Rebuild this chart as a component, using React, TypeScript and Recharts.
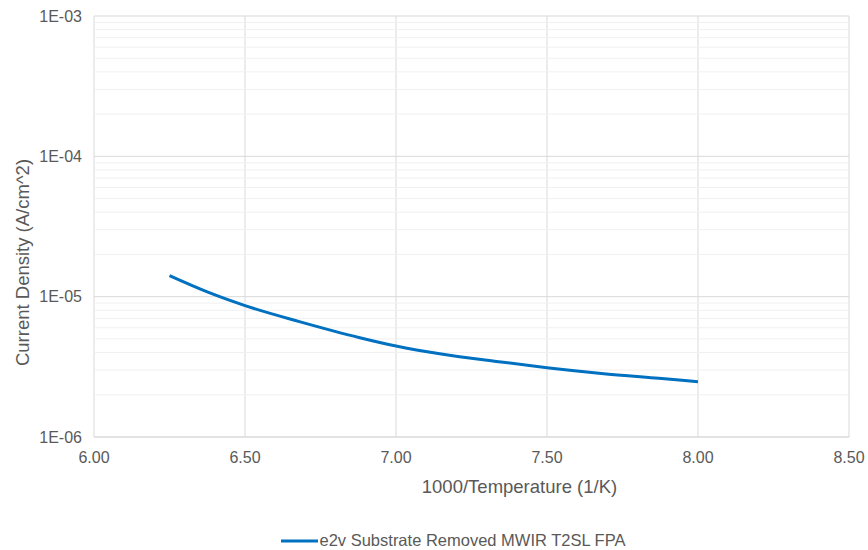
import React from "react";
import {
  LineChart,
  Line,
  XAxis,
  YAxis,
  CartesianGrid,
  Legend,
  ReferenceLine,
} from "recharts";

const inverseTemp = [6.25, 6.375, 6.5, 6.68, 6.88, 7.0, 7.15, 7.34, 7.5, 7.68, 7.87, 8.0];
const currentDensity = [
  1.41e-5, 1.08e-5, 8.63e-6, 6.64e-6, 5.1e-6, 4.45e-6, 3.9e-6, 3.44e-6, 3.12e-6, 2.84e-6, 2.62e-6, 2.48e-6,
];
const xTicks = [6.0, 6.5, 7.0, 7.5, 8.0, 8.5];
const yTicks = [1e-6, 1e-5, 1e-4, 1e-3];
const minorMultipliers = [2, 3, 4, 5, 6, 7, 8, 9];
const seriesName = "e2v Substrate Removed MWIR T2SL FPA";
const xTitle = "1000/Temperature (1/K)";
const yTitle = "Current Density (A/cm^2)";

const data = inverseTemp.map((x, i) => ({ x, y: currentDensity[i] }));
const minorLines: number[] = [];
[1e-6, 1e-5, 1e-4].forEach((d) =>
  minorMultipliers.forEach((m) => minorLines.push(m * d))
);

const FONT = "'Liberation Sans', Arial, sans-serif";
const TXT = "#595959";

const fmtY = (v: number) => {
  const e = Math.round(Math.log10(v));
  const s = Math.abs(e).toString().padStart(2, "0");
  return `1E${e < 0 ? "-" : "+"}${s}`;
};

const LegendContent = () => (
  <div
    style={{
      display: "flex",
      justifyContent: "center",
      alignItems: "center",
      fontFamily: FONT,
      fontSize: 16.5,
      color: TXT,
      paddingTop: 3,
      paddingLeft: 57,
    }}
  >
    <svg width={37} height={10}>
      <line x1={0} y1={5} x2={37} y2={5} stroke="#0070C0" strokeWidth={3} />
    </svg>
    <span style={{ marginLeft: 2 }}>{seriesName}</span>
  </div>
);

const XTitle = (props: any) => {
  const vb = props.viewBox || {};
  const cx = vb.x + vb.width / 2 + 48;
  const by = vb.y + vb.height - 35;
  return (
    <text x={cx} y={by} textAnchor="middle" fill={TXT} fontSize={18.5} fontFamily={FONT}>
      {xTitle}
    </text>
  );
};

const YTitle = (props: any) => {
  const vb = props.viewBox || {};
  const cx = vb.x + 22;
  const cy = vb.y + vb.height / 2 + 36;
  return (
    <text
      x={cx}
      y={cy}
      transform={`rotate(-90, ${cx}, ${cy})`}
      textAnchor="middle"
      dominantBaseline="central"
      fill={TXT}
      fontSize={18.5}
      fontFamily={FONT}
    >
      {yTitle}
    </text>
  );
};

export default function App() {
  return (
    <div style={{ position: "absolute", left: 0, top: 0, background: "#fff" }}>
      <LineChart
        width={868}
        height={550}
        data={data}
        margin={{ top: 16, right: 19, left: 0, bottom: 0 }}
      >
        {minorLines.map((v) => (
          <ReferenceLine
            key={v}
            y={v}
            stroke="#f0f0f0"
            strokeWidth={1}
            ifOverflow="hidden"
          />
        ))}
        <CartesianGrid stroke="#d9d9d9" horizontalValues={yTicks} verticalValues={xTicks} />
        <XAxis
          dataKey="x"
          type="number"
          domain={[6, 8.5]}
          ticks={xTicks}
          tickFormatter={(v: number) => v.toFixed(2)}
          axisLine={{ stroke: "#d9d9d9" }}
          tickLine={false}
          tickSize={6}
          tickMargin={9}
          height={91}
          tick={{ fill: TXT, fontSize: 16, fontFamily: FONT }}
          label={<XTitle />}
        />
        <YAxis
          type="number"
          scale="log"
          domain={[1e-6, 1e-3]}
          ticks={yTicks}
          allowDataOverflow
          tickFormatter={fmtY}
          axisLine={false}
          tickLine={false}
          tickSize={6}
          tickMargin={6}
          width={94}
          tick={{ fill: TXT, fontSize: 16, fontFamily: FONT }}
          label={<YTitle />}
        />
        <Legend verticalAlign="bottom" height={22} content={<LegendContent />} />
        <Line
          type="monotone"
          dataKey="y"
          name={seriesName}
          stroke="#0070C0"
          strokeWidth={3}
          dot={false}
          isAnimationActive={false}
        />
      </LineChart>
    </div>
  );
}
